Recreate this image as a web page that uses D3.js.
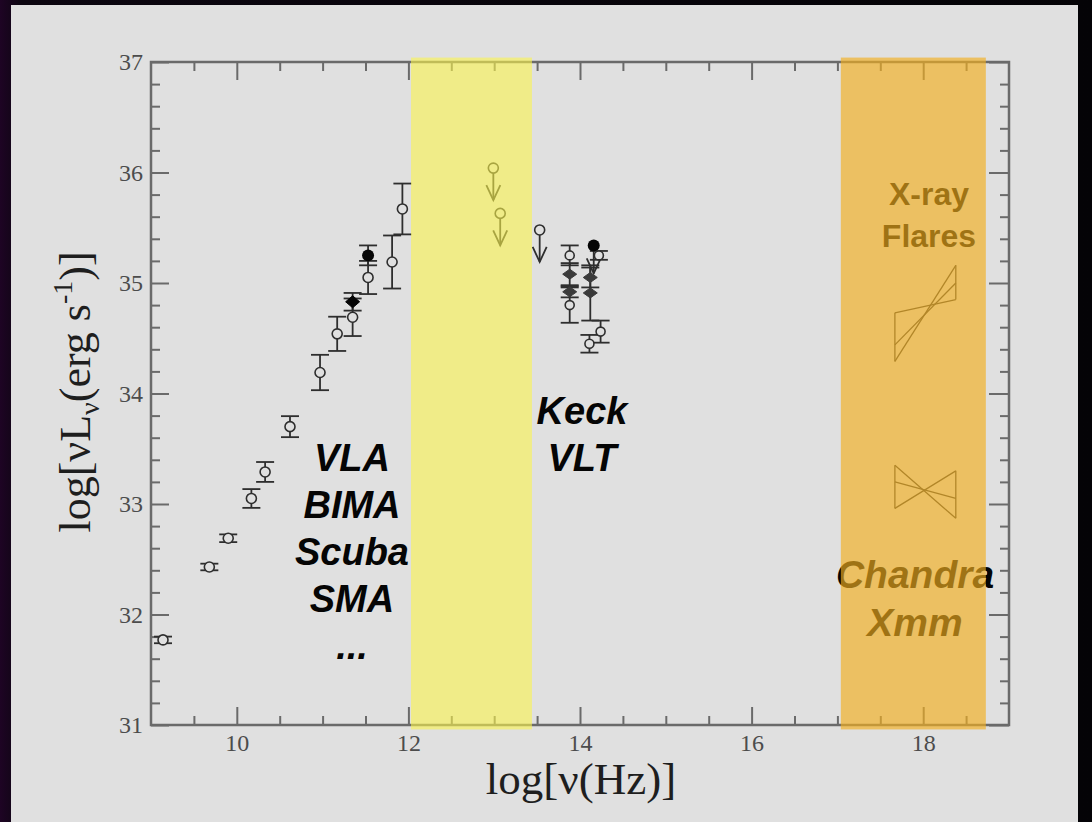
<!DOCTYPE html>
<html>
<head>
<meta charset="utf-8">
<script src="https://cdn.jsdelivr.net/npm/d3@7"></script>
<style>
  html, body { margin: 0; padding: 0; background: #07040b; }
  svg { display: block; }
</style>
</head>
<body>
<script>
// ---- Data: log frequency (Hz) and log nu*L_nu (erg/s) ----
// radio / sub-mm points (open circles with error bars)
const radioFreq = [9.14, 9.68, 9.90, 10.17, 10.33, 10.62, 10.97, 11.17, 11.35, 11.53, 11.81, 11.93];
const radioLum  = [31.77, 32.43, 32.69, 33.05, 33.29, 33.70, 34.19, 34.54, 34.69, 35.05, 35.19, 35.67];
const radioErr  = [0.03, 0.03, 0.035, 0.085, 0.09, 0.095, 0.16, 0.155, 0.17, 0.15, 0.24, 0.23];

// simultaneous sub-mm points (filled)
const simFreq = [11.35, 11.53];
const simLum  = [34.83, 35.25];
const simErr  = [0.08, 0.09];

// mid-IR upper limits
const limitFreq = [12.99, 13.07, 13.53];
const limitLum  = [36.04, 35.63, 35.48];
const flareLimitFreq = [14.16];
const flareLimitLum  = [35.34];

// near-IR (Keck / VLT) points
const nirOpenFreq = [13.88, 13.88, 14.22, 14.11, 14.24];
const nirOpenLum  = [35.25, 34.80, 35.25, 34.45, 34.56];
const nirOpenErr  = [0.09, 0.16, 0.04, 0.08, 0.10];
const nirDiaFreq  = [13.88, 13.88, 14.12, 14.12];
const nirDiaLum   = [35.08, 34.92, 35.05, 34.91];
const nirDiaErr   = [0.10, 0.05, 0.09, 0.25];

// X-ray power-law bow ties: end frequencies and luminosities at each end
const bowFreq = [17.67, 18.38];
const flareBowLeft  = [34.73, 34.44, 34.29];
const flareBowRight = [34.85, 35.00, 35.16];
const quietBowLeft  = [33.35, 33.20, 32.96];
const quietBowRight = [32.87, 33.05, 33.30];

// observing windows
const irWindow   = [12.03, 13.44];
const xrayWindow = [17.04, 18.73];

// axis ticks
const xMajor = [10, 12, 14, 16, 18];
const yMajor = [31, 32, 33, 34, 35, 36, 37];

const W = 1092, H = 822;
const svg = d3.select("body").append("svg").attr("width", W).attr("height", H);

// dark backdrop with a purple tint on the left
const defs = svg.append("defs");
const grad = defs.append("linearGradient").attr("id", "bg").attr("x1", 0).attr("x2", 1).attr("y1", 0).attr("y2", 0);
grad.append("stop").attr("offset", "0").attr("stop-color", "#1e0424");
grad.append("stop").attr("offset", "0.02").attr("stop-color", "#0c0610");
grad.append("stop").attr("offset", "1").attr("stop-color", "#040306");
svg.append("rect").attr("width", W).attr("height", H).attr("fill", "url(#bg)");
svg.append("rect").attr("x", 11).attr("y", 5).attr("width", 1067).attr("height", H - 5).attr("fill", "#e0e0e0");

const x = d3.scaleLinear().domain([9, 19]).range([151, 1009]);
const y = d3.scaleLinear().domain([31, 37]).range([725, 62]);

const axisColor = "#6a6a6a";
const labelFont = "'Liberation Serif', 'Times New Roman', serif";

function styleAxis(g, labels) {
  g.select(".domain").remove();
  g.selectAll(".tick line").attr("stroke", axisColor).attr("stroke-width", 2);
  if (labels) {
    g.selectAll(".tick text").attr("fill", "#4c4c4c").style("font-family", labelFont).style("font-size", "24px");
  } else {
    g.selectAll(".tick text").remove();
  }
}

const xMinor = d3.range(9.5, 19, 0.5).filter(v => !xMajor.includes(v));
const yMinor = d3.range(31.2, 37, 0.2).map(v => +v.toFixed(1)).filter(v => !yMajor.includes(v));

const axes = svg.append("g");
// bottom
axes.append("g").attr("transform", `translate(0,${y(31)})`)
  .call(d3.axisBottom(x).tickValues(xMajor).tickFormat(d3.format("d")).tickSizeInner(-18).tickSizeOuter(0).tickPadding(9))
  .call(g => styleAxis(g, true));
axes.append("g").attr("transform", `translate(0,${y(31)})`)
  .call(d3.axisBottom(x).tickValues(xMinor).tickSizeInner(-9).tickSizeOuter(0))
  .call(g => styleAxis(g, false));
// top
axes.append("g").attr("transform", `translate(0,${y(37)})`)
  .call(d3.axisTop(x).tickValues(xMajor).tickSizeInner(-18).tickSizeOuter(0))
  .call(g => styleAxis(g, false));
axes.append("g").attr("transform", `translate(0,${y(37)})`)
  .call(d3.axisTop(x).tickValues(xMinor).tickSizeInner(-9).tickSizeOuter(0))
  .call(g => styleAxis(g, false));
// left
axes.append("g").attr("transform", `translate(${x(9)},0)`)
  .call(d3.axisLeft(y).tickValues(yMajor).tickFormat(d3.format("d")).tickSizeInner(-18).tickSizeOuter(0).tickPadding(8))
  .call(g => styleAxis(g, true));
axes.append("g").attr("transform", `translate(${x(9)},0)`)
  .call(d3.axisLeft(y).tickValues(yMinor).tickSizeInner(-9).tickSizeOuter(0))
  .call(g => styleAxis(g, false));
// right
axes.append("g").attr("transform", `translate(${x(19)},0)`)
  .call(d3.axisRight(y).tickValues(yMajor).tickSizeInner(-20).tickSizeOuter(0))
  .call(g => styleAxis(g, false));
axes.append("g").attr("transform", `translate(${x(19)},0)`)
  .call(d3.axisRight(y).tickValues(yMinor).tickSizeInner(-9).tickSizeOuter(0))
  .call(g => styleAxis(g, false));
// frame
axes.append("rect")
  .attr("x", x(9)).attr("y", y(37)).attr("width", x(19) - x(9)).attr("height", y(31) - y(37))
  .attr("fill", "none").attr("stroke", axisColor).attr("stroke-width", 2.5);

// axis titles
svg.append("text")
  .attr("x", 581).attr("y", 794).attr("text-anchor", "middle")
  .style("font-family", labelFont).style("font-size", "45px").attr("fill", "#1e1e1e")
  .text("log[ν(Hz)]");

const yTitle = svg.append("text")
  .attr("transform", "translate(90,392) rotate(-90)").attr("text-anchor", "middle")
  .style("font-family", labelFont).style("font-size", "44px").attr("fill", "#1e1e1e");
yTitle.append("tspan").text("log[νL");
yTitle.append("tspan").attr("dy", 9).style("font-size", "28px").text("ν");
yTitle.append("tspan").attr("dy", -9).text("(erg s");
yTitle.append("tspan").attr("dy", -18).style("font-size", "28px").text("-1");
yTitle.append("tspan").attr("dy", 18).text(")]");

// ---- data marks ----
const ink = "#2e2e2e";
const marks = svg.append("g");

function errorBars(freq, lum, err) {
  const g = marks.append("g").attr("stroke", ink).attr("stroke-width", 1.8).attr("fill", "none");
  freq.forEach((f, i) => {
    const cx = x(f), y0 = y(lum[i] - err[i]), y1 = y(lum[i] + err[i]);
    g.append("line").attr("x1", cx).attr("x2", cx).attr("y1", y0).attr("y2", y1);
    g.append("line").attr("x1", cx - 9).attr("x2", cx + 9).attr("y1", y0).attr("y2", y0);
    g.append("line").attr("x1", cx - 9).attr("x2", cx + 9).attr("y1", y1).attr("y2", y1);
  });
}
function openCircles(freq, lum, r) {
  marks.append("g").selectAll("circle").data(freq).join("circle")
    .attr("cx", d => x(d)).attr("cy", (d, i) => y(lum[i])).attr("r", r || 5)
    .attr("fill", "#e0e0e0").attr("stroke", ink).attr("stroke-width", 1.6);
}
function filledCircles(freq, lum) {
  marks.append("g").selectAll("circle").data(freq).join("circle")
    .attr("cx", d => x(d)).attr("cy", (d, i) => y(lum[i])).attr("r", 6).attr("fill", "#050505");
}
function diamonds(freq, lum, w, h, fill) {
  marks.append("g").selectAll("path").data(freq).join("path")
    .attr("d", (d, i) => {
      const cx = x(d), cy = y(lum[i]);
      return `M${cx - w},${cy}L${cx},${cy - h}L${cx + w},${cy}L${cx},${cy + h}Z`;
    })
    .attr("fill", fill).attr("stroke", fill).attr("stroke-width", 1);
}
function limitArrows(freq, lum, len) {
  const g = marks.append("g").attr("stroke", ink).attr("stroke-width", 1.8).attr("fill", "none");
  freq.forEach((f, i) => {
    const cx = x(f), cy = y(lum[i]), tip = cy + len;
    g.append("line").attr("x1", cx).attr("x2", cx).attr("y1", cy + 5).attr("y2", tip);
    g.append("path").attr("d", `M${cx - 7},${tip - 15}L${cx},${tip}L${cx + 7},${tip - 15}`);
  });
}

errorBars(radioFreq, radioLum, radioErr);
errorBars(simFreq, simLum, simErr);
errorBars(nirOpenFreq, nirOpenLum, nirOpenErr);
errorBars(nirDiaFreq, nirDiaLum, nirDiaErr);

openCircles(radioFreq, radioLum);
diamonds(simFreq.slice(0, 1), simLum.slice(0, 1), 7, 6, "#050505");
filledCircles(simFreq.slice(1), simLum.slice(1));

limitArrows(limitFreq, limitLum, 32);
openCircles(limitFreq, limitLum);
limitArrows(flareLimitFreq, flareLimitLum, 28);
filledCircles(flareLimitFreq, flareLimitLum);

openCircles(nirOpenFreq, nirOpenLum, 4.5);
diamonds(nirDiaFreq, nirDiaLum, 7, 5, "#3a3a3a");

// bow ties
function bowTie(left, right) {
  const g = marks.append("g").attr("stroke", "#3a3a3a").attr("stroke-width", 1.3).attr("fill", "none");
  left.forEach((l, i) => {
    g.append("line").attr("x1", x(bowFreq[0])).attr("y1", y(l)).attr("x2", x(bowFreq[1])).attr("y2", y(right[i]));
  });
  g.append("line").attr("x1", x(bowFreq[0])).attr("x2", x(bowFreq[0]))
    .attr("y1", y(d3.min(left))).attr("y2", y(d3.max(left)));
  g.append("line").attr("x1", x(bowFreq[1])).attr("x2", x(bowFreq[1]))
    .attr("y1", y(d3.min(right))).attr("y2", y(d3.max(right)));
}
bowTie(flareBowLeft, flareBowRight);
bowTie(quietBowLeft, quietBowRight);

// instrument labels
const sans = "'Liberation Sans', Arial, Helvetica, sans-serif";
function label(lines, cx, baseline, step, size, italic) {
  const t = svg.append("text").attr("text-anchor", "middle")
    .style("font-family", sans).style("font-size", size + "px").style("font-weight", "bold")
    .style("font-style", italic ? "italic" : "normal").attr("fill", "#050505");
  lines.forEach((s, i) => t.append("tspan").attr("x", cx).attr("y", baseline + i * step).text(s));
}
label(["VLA", "BIMA", "Scuba", "SMA", "..."], 352, 471, 47, 38, true);
label(["Keck", "VLT"], 582, 424, 47, 38, true);
label(["X-ray", "Flares"], 929, 205, 42, 32, false);
label(["Chandra", "Xmm"], 915, 588, 48, 39, true);

// translucent observing windows laid over everything
svg.append("rect")
  .attr("x", x(irWindow[0])).attr("width", x(irWindow[1]) - x(irWindow[0]))
  .attr("y", y(37.04)).attr("height", y(30.96) - y(37.04))
  .attr("fill", "rgb(250,243,77)").attr("fill-opacity", 0.6);
svg.append("rect")
  .attr("x", x(xrayWindow[0])).attr("width", x(xrayWindow[1]) - x(xrayWindow[0]))
  .attr("y", y(37.04)).attr("height", y(30.96) - y(37.04))
  .attr("fill", "rgb(243,175,31)").attr("fill-opacity", 0.65);
</script>
</body>
</html>
